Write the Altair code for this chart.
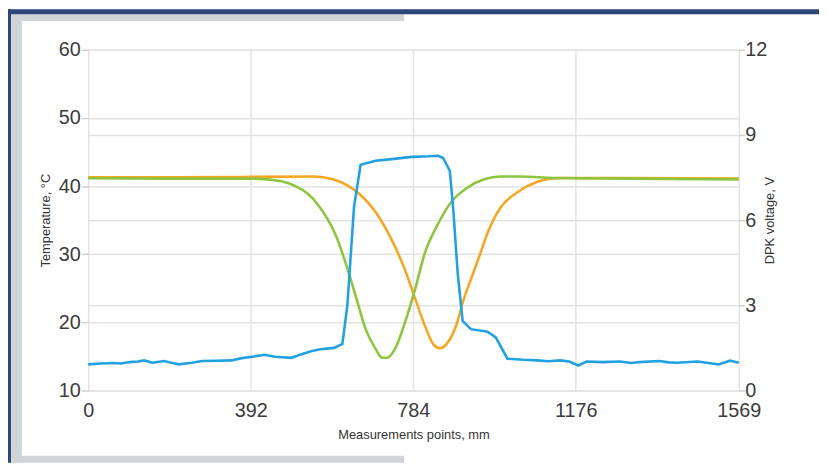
import altair as alt
import pandas as pd

# ---------------- data ----------------
blue_x = [0, 30, 60, 80, 100, 120, 135, 155, 183, 200, 219, 250, 275, 310, 346, 370, 400,
          426, 450, 490, 515, 537, 560, 593, 613, 625, 641, 657, 693, 732, 780, 820, 844,
          856, 872, 880, 891, 903, 923, 963, 983, 1011, 1050, 1083, 1110, 1138, 1160, 1182,
          1202, 1240, 1282, 1310, 1330, 1377, 1400, 1420, 1470, 1500, 1520, 1548, 1569]
blue_v = [0.92, 0.95, 0.97, 0.95, 1.0, 1.02, 1.06, 0.98, 1.04, 0.98, 0.92, 0.98, 1.04, 1.05,
          1.06, 1.14, 1.2, 1.26, 1.19, 1.15, 1.28, 1.38, 1.45, 1.50, 1.64, 3.0, 6.46, 7.95,
          8.09, 8.15, 8.23, 8.25, 8.27, 8.19, 7.74, 6.46, 4.15, 2.45, 2.16, 2.07, 1.87, 1.12,
          1.08, 1.06, 1.03, 1.06, 1.02, 0.88, 1.02, 1.0, 1.02, 0.97, 1.0, 1.04, 0.99, 0.98,
          1.02, 0.96, 0.92, 1.05, 0.98]

orange_x = [0, 200, 400, 544, 590, 625, 653, 693, 732, 764, 784, 812, 832, 848, 864, 891,
            903, 923, 945, 963, 995, 1035, 1082, 1138, 1300, 1569]
orange_t = [41.3, 41.3, 41.35, 41.4, 41.0, 40.1, 38.9, 36.2, 32.1, 27.7, 24.3, 19.5, 16.8,
            16.2, 16.8, 20.2, 22.9, 26.3, 30.0, 33.1, 36.9, 39.1, 40.6, 41.2, 41.2, 41.1]

green_x = [0, 200, 401, 466, 500, 529, 555, 576, 597, 621, 645, 669, 693, 709, 720, 740,
           764, 788, 812, 844, 876, 915, 955, 995, 1043, 1122, 1300, 1569]
green_t = [41.15, 41.1, 41.1, 40.7, 40.0, 38.9, 37.2, 35.3, 32.8, 28.7, 23.9, 19.0, 16.1,
           14.8, 14.8, 16.1, 20.0, 24.8, 30.2, 34.5, 37.7, 39.8, 41.0, 41.4, 41.4, 41.2, 41.1,
           40.96]

x_ticks = [0, 392, 784, 1176, 1569]
t_ticks = [10, 20, 30, 40, 50, 60]
v_ticks = [0, 3, 6, 9, 12]

BLUE = "#22a1e0"
ORANGE = "#f6a623"
GREEN = "#8cc63f"
GRID = "#e3e3e3"
LABEL = "#3c3c3c"
FONT = "Liberation Sans, Arial, sans-serif"

W, H = 657, 344

temp_df = pd.concat([
    pd.DataFrame({"x": orange_x, "t": orange_t, "s": "orange"}),
    pd.DataFrame({"x": green_x, "t": green_t, "s": "green"}),
])
volt_df = pd.DataFrame({"x": blue_x, "v": blue_v})

x_enc = alt.X("x:Q",
              scale=alt.Scale(domain=[0, 1569], nice=False, zero=False),
              axis=alt.Axis(values=x_ticks, format="d", grid=True, gridColor=GRID,
                            gridWidth=1.5, ticks=False, domain=False, labelFlush=False,
                            labelFontSize=20, labelColor=LABEL, labelFont=FONT,
                            labelPadding=10, title="Measurements points, mm",
                            titleFontSize=13, titleFontWeight="normal", titleColor="#333333",
                            titleFont=FONT, titlePadding=9))

temp = alt.Chart(temp_df).mark_line(strokeWidth=2.6, interpolate="monotone").encode(
    x=x_enc,
    y=alt.Y("t:Q",
            scale=alt.Scale(domain=[10, 60], nice=False, zero=False),
            axis=alt.Axis(values=t_ticks, orient="left", grid=True, gridColor=GRID,
                          gridWidth=1.5, tickSize=7, tickColor="#d0d0d0", tickWidth=1.5,
                          domain=False, labelFlush=False, labelFontSize=20,
                          labelColor=LABEL, labelFont=FONT, labelPadding=1,
                          title="Temperature, °C", titleFontSize=13,
                          titleFontWeight="normal", titleColor="#333333", titleFont=FONT,
                          titlePadding=6)),
    color=alt.Color("s:N", scale=alt.Scale(domain=["orange", "green"],
                                           range=[ORANGE, GREEN]), legend=None),
)

volt = alt.Chart(volt_df).mark_line(strokeWidth=2.6, color=BLUE).encode(
    x=alt.X("x:Q", scale=alt.Scale(domain=[0, 1569], nice=False, zero=False)),
    y=alt.Y("v:Q",
            scale=alt.Scale(domain=[0, 12], nice=False, zero=False),
            axis=alt.Axis(values=v_ticks, orient="right", grid=True, gridColor=GRID,
                          gridWidth=1.5, tickSize=6, tickColor="#d0d0d0", tickWidth=1.5,
                          domain=False, labelFlush=False, labelFontSize=20,
                          labelColor=LABEL, labelFont=FONT, labelPadding=0,
                          title="DPK voltage, V", titleAngle=270, titleFontSize=13,
                          titleFontWeight="normal", titleColor="#333333", titleFont=FONT,
                          titlePadding=10)),
)

# ---------------- page decoration (frame) ----------------
one = pd.DataFrame({"k": [0]})


def deco(x0, x1, y0, y1, color):
    return alt.Chart(one).mark_rect(color=color, opacity=1).encode(
        x=alt.value(x0), x2=alt.value(x1), y=alt.value(y0), y2=alt.value(y1))


GRAY = "#d1d5d8"
NAVY = "#2d4878"
frame = alt.layer(
    deco(-79, 319, -36, -29, GRAY),
    deco(-79, -67, -36, 417, GRAY),
    deco(-79, 319, 410, 417, GRAY),
    deco(-81, 738, -41, -36, NAVY),
    deco(-81, -78, -41, 417, NAVY),
)

chart = alt.layer(frame, temp, volt).resolve_scale(y="independent").properties(
    width=W, height=H,
    autosize=alt.AutoSizeParams(type="none"),
    padding={"left": 81, "top": 40, "right": 81, "bottom": 73},
    background="white",
).configure_view(stroke=None)

chart.save("out.html", embed_options={"renderer": "svg", "actions": False})
